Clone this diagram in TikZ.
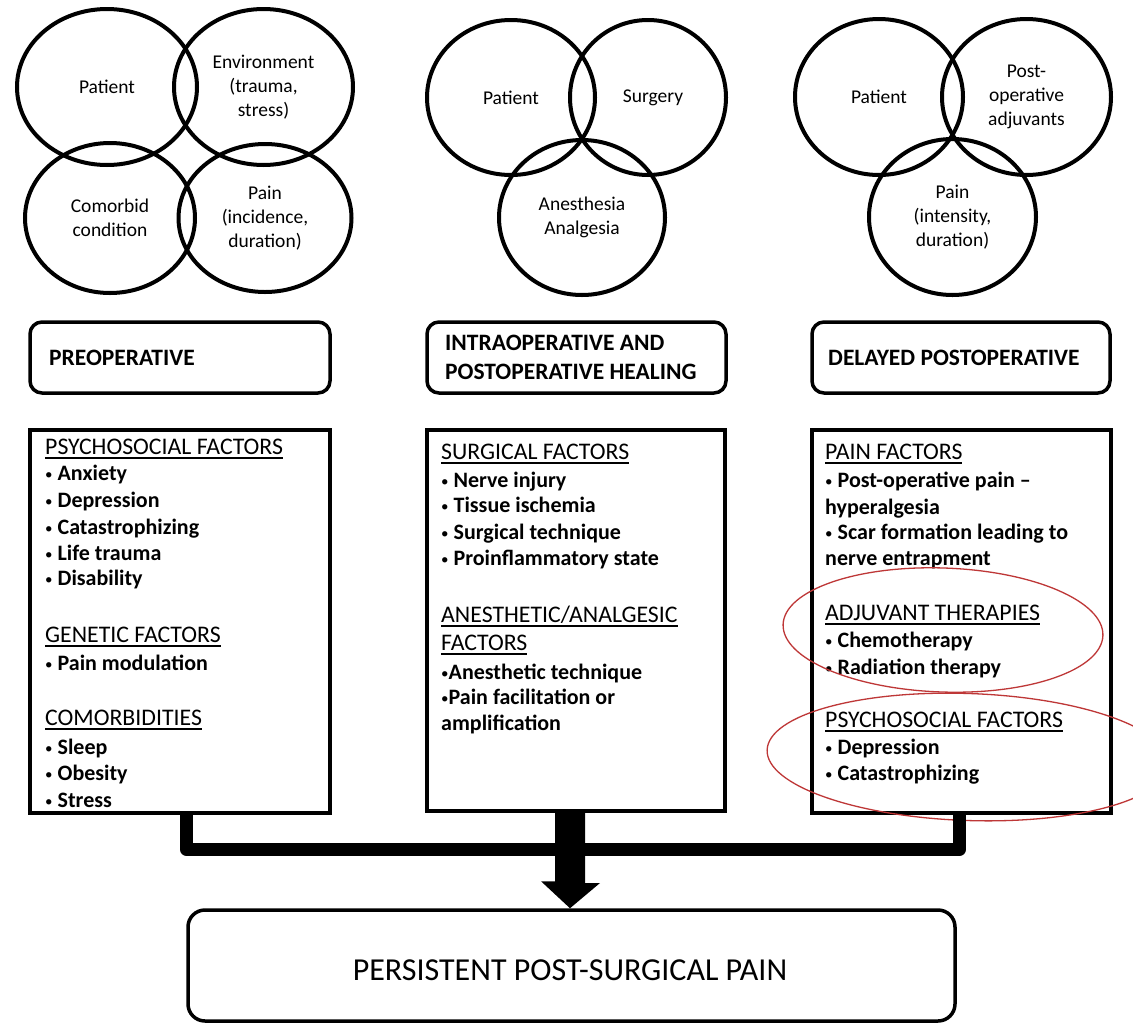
\documentclass[tikz,border=0pt]{standalone}
\usepackage{fontspec}
\setmainfont{Carlito}
\usetikzlibrary{shapes.geometric}
\definecolor{redline}{RGB}{190,55,55}
\newcommand\ulhd[1]{\setbox0=\hbox{#1}\rlap{\vrule width\wd0 height -2.8pt depth 4.8pt}\box0}
\newcommand\bul{\raisebox{1pt}{\fontsize{15}{15}\selectfont\mdseries •}}
\begin{document}
\begin{tikzpicture}[x=1pt,y=-1pt,
  venn/.style={ellipse, draw, line width=4pt, inner sep=0pt, align=center,
    font=\fontsize{19.5}{24}\selectfont},
  phasebox/.style={draw, line width=3.5pt, rounded corners=12pt, inner sep=0pt},
  factbox/.style={draw, line width=4pt, inner sep=0pt},
  hdtxt/.style={anchor=base west, inner sep=0pt, font=\fontsize{23.8}{26}\selectfont},
  itemtxt/.style={anchor=base west, inner sep=0pt, font=\fontsize{22}{26}\selectfont\bfseries},
  phasetxt/.style={anchor=base west, inner sep=0pt, font=\fontsize{23.5}{29}\selectfont\bfseries},
  bracket/.style={line width=13pt, line join=round},
  redring/.style={draw=redline, line width=1.3pt}]
\clip (0,0) rectangle (1133,1026);
\fill[white] (0,0) rectangle (1133,1026);

% ---- Venn groups ----
\node[venn, minimum width=180pt, minimum height=156pt] (p1) at (107,87) {Patient};
\node[venn, minimum width=179pt, minimum height=156pt] (e1) at (263.5,87) {Environment\\(trauma,\\stress)};
\node[venn, minimum width=170pt, minimum height=150pt] (c1) at (110,218) {Comorbid\\condition};
\node[venn, minimum width=173pt, minimum height=148pt] (n1) at (265,218) {Pain\\(incidence,\\duration)};

\node[venn, minimum width=168pt, minimum height=155pt] (p2) at (511,97.5) {Patient};
\node[venn, minimum width=156pt, minimum height=155pt] (s2) at (648,97.5) {\hspace*{10pt}Surgery};
\node[venn, minimum width=166pt, minimum height=155pt] (a2) at (582,217.5) {Anesthesia\\Analgesia};

\node[venn, minimum width=168pt, minimum height=156pt] (p3) at (879,97) {Patient};
\node[venn, minimum width=169pt, minimum height=156pt] (o3) at (1026.5,97) {Post-\\operative\\adjuvants};
\node[venn, minimum width=167pt, minimum height=156pt] (n3) at (952.5,217) {Pain\\(intensity,\\duration)};

% ---- phase boxes ----
\node[phasebox, minimum width=300pt, minimum height=71pt] (ph1) at (180,357.5) {};
\node[phasebox, minimum width=299pt, minimum height=71pt] (ph2) at (576.5,357.5) {};
\node[phasebox, minimum width=298pt, minimum height=71pt] (ph3) at (961,357.5) {};
\node[phasetxt] (ph1t) at (49,365) {PREOPERATIVE};
\node[phasetxt] (ph2t) at (445,350) {INTRAOPERATIVE AND};
\node[phasetxt] (ph2u) at (445,379) {POSTOPERATIVE HEALING};
\node[phasetxt] (ph3t) at (828,365) {DELAYED POSTOPERATIVE};

% ---- factor boxes ----
\node[factbox, minimum width=300pt, minimum height=383pt] (lbox) at (180,621.5) {};
\node[factbox, minimum width=298pt, minimum height=381pt] (mbox) at (576,620.5) {};
\node[factbox, minimum width=299pt, minimum height=383pt] (rbox) at (961.5,621.5) {};

% left box text
\node[hdtxt] (l1) at (45,454) {\ulhd{PSYCHOSOCIAL FACTORS}};
\node[itemtxt] (l2) at (45,480) {\bul\ Anxiety};
\node[itemtxt] (l3) at (45,507) {\bul\ Depression};
\node[itemtxt] (l4) at (45,534) {\bul\ Catastrophizing};
\node[itemtxt] (l5) at (45,560) {\bul\ Life trauma};
\node[itemtxt] (l6) at (45,585) {\bul\ Disability};
\node[hdtxt] (l7) at (45,642) {\ulhd{GENETIC FACTORS}};
\node[itemtxt] (l8) at (45,670) {\bul\ Pain modulation};
\node[hdtxt] (l9) at (45,725) {\ulhd{COMORBIDITIES}};
\node[itemtxt] (l10) at (45,754) {\bul\ Sleep};
\node[itemtxt] (l11) at (45,780) {\bul\ Obesity};
\node[itemtxt] (l12) at (45,807) {\bul\ Stress};

% middle box text
\node[hdtxt] (m1) at (441,459) {\ulhd{SURGICAL FACTORS}};
\node[itemtxt] (m2) at (441,487) {\bul\ Nerve injury};
\node[itemtxt] (m3) at (441,512) {\bul\ Tissue ischemia};
\node[itemtxt] (m4) at (441,539) {\bul\ Surgical technique};
\node[itemtxt] (m5) at (441,565) {\bul\ Proinflammatory state};
\node[hdtxt] (m6) at (441,622) {\ulhd{ANESTHETIC/ANALGESIC}};
\node[hdtxt] (m7) at (441,650) {\ulhd{FACTORS}};
\node[itemtxt] (m8) at (441,679) {\bul Anesthetic technique};
\node[itemtxt] (m9) at (441,704) {\bul Pain facilitation or};
\node[itemtxt] (m10) at (441,730) {amplification};

% right box text
\node[hdtxt] (r1) at (825,459) {\ulhd{PAIN FACTORS}};
\node[itemtxt] (r2) at (825,487) {\bul\ Post-operative pain –};
\node[itemtxt] (r3) at (825,514) {hyperalgesia};
\node[itemtxt] (r4) at (825,539) {\bul\ Scar formation leading to};
\node[itemtxt] (r5) at (825,565) {nerve entrapment};
\node[hdtxt] (r6) at (825,620) {\ulhd{ADJUVANT THERAPIES}};
\node[itemtxt] (r7) at (825,647) {\bul\ Chemotherapy};
\node[itemtxt] (r8) at (825,674) {\bul\ Radiation therapy};
\node[hdtxt] (r9) at (825,727) {\ulhd{PSYCHOSOCIAL FACTORS}};
\node[itemtxt] (r10) at (825,754) {\bul\ Depression};
\node[itemtxt] (r11) at (825,780) {\bul\ Catastrophizing};

% red highlight ellipses
\draw[redring, rotate around={-2:(943,630)}] (943,630) ellipse [x radius=160pt, y radius=62pt];
\draw[redring, rotate around={-2:(968,757)}] (968,757) ellipse [x radius=201pt, y radius=63.5pt];

% ---- bottom box ----
\node[draw, line width=3.5pt, rounded corners=17pt, minimum width=767pt, minimum height=111pt,
  inner sep=0pt] (bbox) at (571.5,965.5) {};
\node[inner sep=0pt, font=\fontsize{32}{36}\selectfont] (btxt) at (570,970) {PERSISTENT POST-SURGICAL PAIN};

% ---- connectors ----
\coordinate (jl) at (186.5,849.5);
\coordinate (jr) at (959.5,849.5);
\draw[bracket] (lbox.south -| jl) -- (jl) -- (jr) -- (rbox.south -| jr);
\coordinate (arrtop) at (570,811);
\coordinate (tip) at (bbox.north -| arrtop);
\fill (arrtop) ++(-15,0) -- ++(30,0) -- ++(0,72) -- ++(15,0) -- (tip) -- ++(-29,-27) -- ++(14,0) -- cycle;
\end{tikzpicture}
\end{document}
